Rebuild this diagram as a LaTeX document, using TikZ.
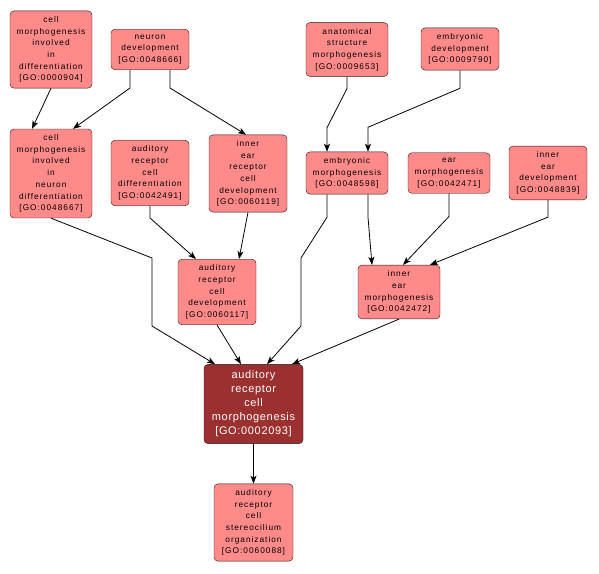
\documentclass[tikz,border=0pt]{standalone}
\usepackage{fontspec}
\newfontfamily\gofont[LetterSpace=12]{Liberation Sans}
\newfontfamily\gobig[LetterSpace=6]{Liberation Sans}
\definecolor{gosalmon}{RGB}{255,138,138}
\definecolor{godark}{RGB}{155,48,48}
\definecolor{goedge}{RGB}{40,20,20}
\usetikzlibrary{arrows.meta,positioning}

\begin{document}
\begin{tikzpicture}[
  x=1pt,y=-1pt,
  box/.style={draw=goedge,fill=gosalmon,rounded corners=4pt,minimum width=78pt,
    inner xsep=2pt,inner ysep=5.5pt,align=center,
    font=\gofont\fontsize{8.3}{11.7}\selectfont},
  wide/.style={minimum width=82pt},
  main/.style={box,fill=godark,text=white,minimum width=99pt,inner ysep=6.5pt,
    font=\gobig\fontsize{11}{14}\selectfont},
  arr/.style={-{Stealth[length=8pt,width=6pt,inset=2pt]},line width=0.8pt,black}
]
  \useasboundingbox (0,0) rectangle (599,573);
  % Top row
  \node[box,wide] (cmid) at (51,49.5) {cell\\morphogenesis\\involved\\in\\differentiation\\{[GO:0000904]}};
  \node[box] (neurdev) at (150,49.5) {neuron\\development\\{[GO:0048666]}};
  \node[box,wide] (anatmorph) at (347,49.5) {anatomical\\structure\\morphogenesis\\{[GO:0009653]}};
  \node[box] (embdev) at (460,49) {embryonic\\development\\{[GO:0009790]}};
  % Second row
  \node[box,wide] (cmnd) at (51,173.5) {cell\\morphogenesis\\involved\\in\\neuron\\differentiation\\{[GO:0048667]}};
  \node[box] (arcdiff) at (150,173) {auditory\\receptor\\cell\\differentiation\\{[GO:0042491]}};
  \node[box] (ierdev) at (248,173.5) {inner\\ear\\receptor\\cell\\development\\{[GO:0060119]}};
  \node[box,wide] (embmorph) at (347,173) {embryonic\\morphogenesis\\{[GO:0048598]}};
  \node[box,wide] (earmorph) at (449,173) {ear\\morphogenesis\\{[GO:0042471]}};
  \node[box] (iedev) at (548,173) {inner\\ear\\development\\{[GO:0048839]}};
  % Third row
  \node[box] (arcdev) at (217,292) {auditory\\receptor\\cell\\development\\{[GO:0060117]}};
  \node[box,wide] (iemorph) at (399,292) {inner\\ear\\morphogenesis\\{[GO:0042472]}};
  % Focus term
  \node[main] (arcmorph) at (253.5,404) {auditory\\receptor\\cell\\morphogenesis\\{[GO:0002093]}};
  % Child
  \node[box,minimum width=79pt] (stereo) at (253.5,522.5) {auditory\\receptor\\cell\\stereocilium\\organization\\{[GO:0060088]}};
  % Arrows
  \draw[arr] (cmid.south) -- ([xshift=-19pt]cmnd.north);
  \draw[arr] ([xshift=-20pt]neurdev.south) -- ++(0,18) -- ([xshift=22pt]cmnd.north);
  \draw[arr] ([xshift=20pt]neurdev.south) -- ++(0,18) -- ([xshift=-2pt]ierdev.north);
  \draw[arr] (anatmorph.south) -- ++(0,12) -- ++(-20,39) -- ([xshift=-20pt]embmorph.north);
  \draw[arr] (embdev.south) -- ++(0,18) -- ++(-92,39) -- ([xshift=21pt]embmorph.north);
  \draw[arr] (cmnd.south) -- (152,258) -- (152,326) -- ([xshift=-38.5pt]arcmorph.north);
  \draw[arr] (arcdiff.south) -- ++(0,12) -- ([xshift=-21pt]arcdev.north);
  \draw[arr] (ierdev.south) -- ([xshift=22pt]arcdev.north);
  \draw[arr] ([xshift=-20pt]embmorph.south) -- ++(0,23) -- (301,258) -- (301,326) -- ([xshift=13.5pt]arcmorph.north);
  \draw[arr] ([xshift=21pt]embmorph.south) -- ++(0,23) -- ([xshift=-27pt]iemorph.north);
  \draw[arr] (earmorph.south) -- ++(0,23) -- ([xshift=4pt]iemorph.north);
  \draw[arr] (iedev.south) -- ++(0,17) -- ([xshift=31pt]iemorph.north);
  \draw[arr] (arcdev.south) -- ([xshift=-12.5pt]arcmorph.north);
  \draw[arr] (iemorph.south) -- ([xshift=38.5pt]arcmorph.north);
  \draw[arr] (arcmorph.south) -- (stereo.north);
\end{tikzpicture}
\end{document}
